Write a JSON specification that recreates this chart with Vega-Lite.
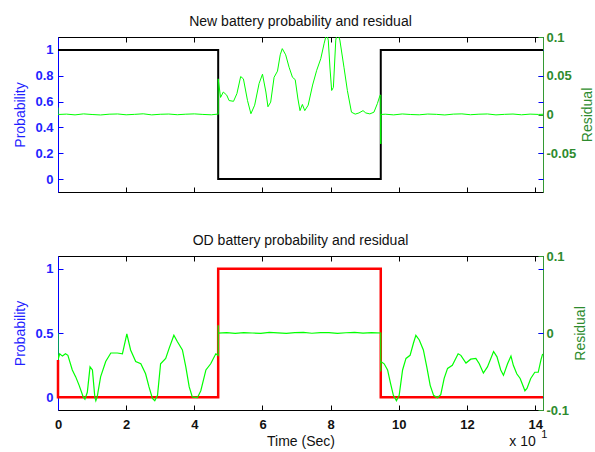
{
  "$schema": "https://vega.github.io/schema/vega-lite/v6.json",
  "background": "white",
  "padding": {"left": 13, "top": 14, "right": 0, "bottom": 0},
  "bounds": "flush",
  "spacing": 64,
  "config": {
    "font": "Liberation Sans",
    "view": {"stroke": "black", "strokeWidth": 1},
    "title": {"fontSize": 14, "fontWeight": "normal", "anchor": "middle", "offset": 2, "baseline": "alphabetic", "color": "#111111"},
    "axis": {"grid": false, "labelFlush": false, "tickSize": -5, "tickWidth": 1, "labelFontSize": 13, "labelFontWeight": "bold", "titleFontSize": 14, "titleFontWeight": "normal"}
  },
  "datasets": {
    "probTop": [{"x":0,"p":1,"i":0},{"x":4.7,"p":1,"i":1},{"x":4.7,"p":0,"i":2},{"x":9.47,"p":0,"i":3},{"x":9.47,"p":1,"i":4},{"x":14.23,"p":1,"i":5}],
    "probBot": [{"x":0,"p":0.29,"i":0},{"x":0,"p":0,"i":1},{"x":4.7,"p":0,"i":2},{"x":4.7,"p":1,"i":3},{"x":9.47,"p":1,"i":4},{"x":9.47,"p":0,"i":5},{"x":14.23,"p":0,"i":6}],
    "resTop": [
      {"x":0,"r":0.009,"i":0},{"x":0,"r":0,"i":1},{"x":0.25,"r":0.0005,"i":2},{"x":0.5,"r":-0.0005,"i":3},{"x":0.75,"r":0.0008,"i":4},{"x":1.0,"r":0,"i":5},{"x":1.25,"r":-0.0006,"i":6},{"x":1.5,"r":0.0004,"i":7},{"x":1.75,"r":0.0007,"i":8},{"x":2.0,"r":-0.0004,"i":9},{"x":2.25,"r":0.0002,"i":10},{"x":2.5,"r":0.0009,"i":11},{"x":2.75,"r":-0.0005,"i":12},{"x":3.0,"r":0.0003,"i":13},{"x":3.25,"r":0.0006,"i":14},{"x":3.5,"r":-0.0003,"i":15},{"x":3.75,"r":0.0004,"i":16},{"x":4.0,"r":0.0008,"i":17},{"x":4.25,"r":0.0001,"i":18},{"x":4.5,"r":-0.0004,"i":19},{"x":4.68,"r":0.0005,"i":20},
      {"x":4.7,"r":0,"i":21},{"x":4.7,"r":0.046,"i":22},{"x":4.77,"r":0.022,"i":23},{"x":4.85,"r":0.029,"i":24},{"x":4.95,"r":0.025,"i":25},{"x":5.02,"r":0.018,"i":26},{"x":5.15,"r":0.017,"i":27},{"x":5.25,"r":0.027,"i":28},{"x":5.36,"r":0.049,"i":29},{"x":5.44,"r":0.046,"i":30},{"x":5.56,"r":0.018,"i":31},{"x":5.66,"r":0.001,"i":32},{"x":5.77,"r":0.012,"i":33},{"x":5.9,"r":0.04,"i":34},{"x":6.0,"r":0.052,"i":35},{"x":6.1,"r":0.029,"i":36},{"x":6.16,"r":0.01,"i":37},{"x":6.24,"r":0.016,"i":38},{"x":6.34,"r":0.048,"i":39},{"x":6.44,"r":0.056,"i":40},{"x":6.52,"r":0.077,"i":41},{"x":6.58,"r":0.085,"i":42},{"x":6.68,"r":0.077,"i":43},{"x":6.78,"r":0.061,"i":44},{"x":6.88,"r":0.048,"i":45},{"x":6.96,"r":0.045,"i":46},{"x":7.04,"r":0.02,"i":47},{"x":7.1,"r":0.005,"i":48},{"x":7.17,"r":0.013,"i":49},{"x":7.24,"r":0.005,"i":50},{"x":7.34,"r":0.012,"i":51},{"x":7.47,"r":0.038,"i":52},{"x":7.59,"r":0.057,"i":53},{"x":7.71,"r":0.072,"i":54},{"x":7.81,"r":0.092,"i":55},{"x":7.88,"r":0.104,"i":56},{"x":7.93,"r":0.096,"i":57},{"x":7.98,"r":0.06,"i":58},{"x":8.03,"r":0.031,"i":59},{"x":8.08,"r":0.035,"i":60},{"x":8.15,"r":0.096,"i":61},{"x":8.2,"r":0.106,"i":62},{"x":8.27,"r":0.096,"i":63},{"x":8.39,"r":0.061,"i":64},{"x":8.49,"r":0.031,"i":65},{"x":8.61,"r":0.003,"i":66},{"x":8.72,"r":0.0005,"i":67},{"x":8.83,"r":0.002,"i":68},{"x":8.95,"r":0.005,"i":69},{"x":9.03,"r":0.002,"i":70},{"x":9.15,"r":0.0008,"i":71},{"x":9.27,"r":0.003,"i":72},{"x":9.37,"r":0.014,"i":73},{"x":9.45,"r":0.025,"i":74},{"x":9.47,"r":0.025,"i":75},{"x":9.47,"r":-0.038,"i":76},{"x":9.47,"r":0,"i":77},
      {"x":9.6,"r":0.0004,"i":78},{"x":9.85,"r":-0.0005,"i":79},{"x":10.1,"r":0.0007,"i":80},{"x":10.35,"r":0,"i":81},{"x":10.6,"r":-0.0004,"i":82},{"x":10.85,"r":0.0006,"i":83},{"x":11.1,"r":0.0002,"i":84},{"x":11.35,"r":-0.0006,"i":85},{"x":11.6,"r":0.0005,"i":86},{"x":11.85,"r":0.0008,"i":87},{"x":12.1,"r":-0.0003,"i":88},{"x":12.35,"r":0.0004,"i":89},{"x":12.6,"r":0.0007,"i":90},{"x":12.85,"r":-0.0005,"i":91},{"x":13.1,"r":0.0002,"i":92},{"x":13.35,"r":0.0006,"i":93},{"x":13.6,"r":-0.0004,"i":94},{"x":13.85,"r":0.0005,"i":95},{"x":14.1,"r":0.0001,"i":96},{"x":14.23,"r":0.0003,"i":97}
    ],
    "resBot": [
      {"x":0,"r":0,"i":0},{"x":0,"r":-0.035,"i":1},{"x":0.05,"r":-0.027,"i":2},{"x":0.13,"r":-0.03,"i":3},{"x":0.22,"r":-0.027,"i":4},{"x":0.29,"r":-0.029,"i":5},{"x":0.42,"r":-0.048,"i":6},{"x":0.52,"r":-0.057,"i":7},{"x":0.62,"r":-0.068,"i":8},{"x":0.74,"r":-0.083,"i":9},{"x":0.79,"r":-0.086,"i":10},{"x":0.86,"r":-0.077,"i":11},{"x":0.94,"r":-0.044,"i":12},{"x":1.01,"r":-0.048,"i":13},{"x":1.08,"r":-0.083,"i":14},{"x":1.11,"r":-0.088,"i":15},{"x":1.15,"r":-0.083,"i":16},{"x":1.25,"r":-0.057,"i":17},{"x":1.4,"r":-0.037,"i":18},{"x":1.55,"r":-0.026,"i":19},{"x":1.74,"r":-0.026,"i":20},{"x":1.89,"r":-0.027,"i":21},{"x":2.02,"r":-0.001,"i":22},{"x":2.13,"r":-0.022,"i":23},{"x":2.28,"r":-0.037,"i":24},{"x":2.43,"r":-0.04,"i":25},{"x":2.57,"r":-0.053,"i":26},{"x":2.67,"r":-0.07,"i":27},{"x":2.77,"r":-0.085,"i":28},{"x":2.84,"r":-0.088,"i":29},{"x":2.92,"r":-0.081,"i":30},{"x":3.01,"r":-0.04,"i":31},{"x":3.16,"r":-0.033,"i":32},{"x":3.26,"r":-0.02,"i":33},{"x":3.4,"r":-0.003,"i":34},{"x":3.5,"r":-0.011,"i":35},{"x":3.65,"r":-0.022,"i":36},{"x":3.75,"r":-0.044,"i":37},{"x":3.85,"r":-0.07,"i":38},{"x":3.94,"r":-0.083,"i":39},{"x":4.09,"r":-0.084,"i":40},{"x":4.19,"r":-0.075,"i":41},{"x":4.34,"r":-0.048,"i":42},{"x":4.48,"r":-0.04,"i":43},{"x":4.63,"r":-0.027,"i":44},{"x":4.7,"r":-0.029,"i":45},{"x":4.7,"r":0.01,"i":46},{"x":4.7,"r":0,"i":47},
      {"x":4.95,"r":0.0005,"i":48},{"x":5.2,"r":-0.0004,"i":49},{"x":5.45,"r":0.0006,"i":50},{"x":5.7,"r":0,"i":51},{"x":5.95,"r":-0.0005,"i":52},{"x":6.2,"r":0.0007,"i":53},{"x":6.45,"r":0.0002,"i":54},{"x":6.7,"r":-0.0004,"i":55},{"x":6.95,"r":0.0006,"i":56},{"x":7.2,"r":0.0008,"i":57},{"x":7.45,"r":-0.0003,"i":58},{"x":7.7,"r":0.0004,"i":59},{"x":7.95,"r":0.0006,"i":60},{"x":8.2,"r":-0.0005,"i":61},{"x":8.45,"r":0.0003,"i":62},{"x":8.7,"r":0.0007,"i":63},{"x":8.95,"r":-0.0002,"i":64},{"x":9.2,"r":0.0005,"i":65},
      {"x":9.47,"r":0,"i":66},{"x":9.47,"r":-0.05,"i":67},{"x":9.47,"r":-0.037,"i":68},{"x":9.57,"r":-0.04,"i":69},{"x":9.67,"r":-0.048,"i":70},{"x":9.76,"r":-0.066,"i":71},{"x":9.84,"r":-0.081,"i":72},{"x":9.93,"r":-0.088,"i":73},{"x":10.01,"r":-0.081,"i":74},{"x":10.11,"r":-0.048,"i":75},{"x":10.21,"r":-0.033,"i":76},{"x":10.33,"r":-0.029,"i":77},{"x":10.43,"r":-0.013,"i":78},{"x":10.5,"r":-0.003,"i":79},{"x":10.6,"r":-0.009,"i":80},{"x":10.72,"r":-0.022,"i":81},{"x":10.82,"r":-0.044,"i":82},{"x":10.92,"r":-0.068,"i":83},{"x":11.02,"r":-0.081,"i":84},{"x":11.13,"r":-0.084,"i":85},{"x":11.23,"r":-0.08,"i":86},{"x":11.33,"r":-0.059,"i":87},{"x":11.43,"r":-0.046,"i":88},{"x":11.57,"r":-0.042,"i":89},{"x":11.74,"r":-0.027,"i":90},{"x":11.82,"r":-0.029,"i":91},{"x":11.97,"r":-0.039,"i":92},{"x":12.11,"r":-0.034,"i":93},{"x":12.26,"r":-0.033,"i":94},{"x":12.36,"r":-0.04,"i":95},{"x":12.48,"r":-0.052,"i":96},{"x":12.6,"r":-0.044,"i":97},{"x":12.78,"r":-0.024,"i":98},{"x":12.88,"r":-0.031,"i":99},{"x":12.99,"r":-0.048,"i":100},{"x":13.07,"r":-0.055,"i":101},{"x":13.19,"r":-0.04,"i":102},{"x":13.29,"r":-0.03,"i":103},{"x":13.36,"r":-0.042,"i":104},{"x":13.46,"r":-0.053,"i":105},{"x":13.56,"r":-0.059,"i":106},{"x":13.7,"r":-0.075,"i":107},{"x":13.76,"r":-0.072,"i":108},{"x":13.87,"r":-0.059,"i":109},{"x":13.99,"r":-0.051,"i":110},{"x":14.09,"r":-0.051,"i":111},{"x":14.17,"r":-0.035,"i":112},{"x":14.22,"r":-0.027,"i":113}
    ],
    "expo": [{"x": 13.24, "t": "x 10"}],
    "expoSup": [{"x": 14.18, "t": "1"}]
  },
  "vconcat": [
    {
      "title": "New battery probability and residual",
      "width": 485,
      "height": 155,
      "resolve": {"scale": {"y": "independent"}, "axis": {"x": "independent", "y": "independent"}},
      "layer": [
        {
          "data": {"name": "probTop"},
          "mark": {"type": "line", "color": "black", "strokeWidth": 2},
          "encoding": {
            "x": {"field": "x", "type": "quantitative", "scale": {"domain": [0, 14.23], "nice": false, "zero": false},
                  "axis": {"orient": "bottom", "labels": false, "title": null, "values": [0,2,4,6,8,10,12,14], "domain": false, "tickColor": "black"}},
            "y": {"field": "p", "type": "quantitative", "scale": {"domain": [-0.1, 1.1], "nice": false, "zero": false},
                  "axis": {"orient": "left", "title": "Probability", "titleColor": "#1f1fff", "titlePadding": 7, "values": [0,0.2,0.4,0.6,0.8,1], "labelExpr": "'' + datum.value", "labelColor": "#1f1fff", "labelPadding": 10, "domainColor": "#0000ff", "tickColor": "#0000ff"}},
            "order": {"field": "i", "type": "quantitative"}
          }
        },
        {
          "data": {"name": "resTop"},
          "mark": {"type": "line", "color": "#00ff00", "strokeWidth": 1, "clip": true},
          "encoding": {
            "x": {"field": "x", "type": "quantitative", "axis": null},
            "y": {"field": "r", "type": "quantitative", "scale": {"domain": [-0.1, 0.1], "nice": false, "zero": false},
                  "axis": {"orient": "right", "title": "Residual", "titleAngle": 270, "titleBaseline": "top", "titleColor": "#2e8b2e", "titlePadding": 5, "values": [-0.05,0,0.05,0.1], "labelExpr": "'' + datum.value", "labelColor": "#2e8b2e", "labelPadding": 8, "domainColor": "#339933", "tickColor": "#339933"}},
            "order": {"field": "i", "type": "quantitative"}
          }
        },
        {
          "data": {"name": "probTop"},
          "mark": {"type": "line", "opacity": 0},
          "encoding": {
            "x": {"field": "x", "type": "quantitative",
                  "axis": {"orient": "top", "labels": false, "title": null, "values": [0,2,4,6,8,10,12,14], "domain": false, "tickColor": "black"}},
            "y": {"field": "p", "type": "quantitative", "scale": {"domain": [-0.1, 1.1], "nice": false, "zero": false},
                  "axis": {"orient": "right", "labels": false, "title": null, "values": [0,0.2,0.4,0.6,0.8,1], "domain": false, "tickColor": "#0000ff"}}
          }
        }
      ]
    },
    {
      "title": "OD battery probability and residual",
      "width": 485,
      "height": 154,
      "resolve": {"scale": {"y": "independent"}, "axis": {"x": "independent", "y": "independent"}},
      "layer": [
        {
          "data": {"name": "probBot"},
          "mark": {"type": "line", "color": "#ff0000", "strokeWidth": 2.5},
          "encoding": {
            "x": {"field": "x", "type": "quantitative", "scale": {"domain": [0, 14.23], "nice": false, "zero": false},
                  "axis": {"orient": "bottom", "title": "Time (Sec)", "titleColor": "#111111", "titlePadding": 3, "values": [0,2,4,6,8,10,12,14], "labelColor": "#111111", "labelPadding": 13, "domain": false, "tickColor": "black"}},
            "y": {"field": "p", "type": "quantitative", "scale": {"domain": [-0.1, 1.1], "nice": false, "zero": false},
                  "axis": {"orient": "left", "title": "Probability", "titleColor": "#1f1fff", "titlePadding": 7, "values": [0,0.5,1], "labelExpr": "'' + datum.value", "labelColor": "#1f1fff", "labelPadding": 10, "domainColor": "#0000ff", "tickColor": "#0000ff"}},
            "order": {"field": "i", "type": "quantitative"}
          }
        },
        {
          "data": {"name": "resBot"},
          "mark": {"type": "line", "color": "#00ff00", "strokeWidth": 1.2, "clip": true},
          "encoding": {
            "x": {"field": "x", "type": "quantitative", "axis": null},
            "y": {"field": "r", "type": "quantitative", "scale": {"domain": [-0.1, 0.1], "nice": false, "zero": false},
                  "axis": {"orient": "right", "title": "Residual", "titleAngle": 270, "titleBaseline": "top", "titleColor": "#2e8b2e", "titlePadding": 5, "values": [-0.1,0,0.1], "labelExpr": "'' + datum.value", "labelColor": "#2e8b2e", "labelPadding": 8, "domainColor": "#339933", "tickColor": "#339933"}},
            "order": {"field": "i", "type": "quantitative"}
          }
        },
        {
          "data": {"name": "probBot"},
          "mark": {"type": "line", "opacity": 0},
          "encoding": {
            "x": {"field": "x", "type": "quantitative",
                  "axis": {"orient": "top", "labels": false, "title": null, "values": [0,2,4,6,8,10,12,14], "domain": false, "tickColor": "black"}},
            "y": {"field": "p", "type": "quantitative", "scale": {"domain": [-0.1, 1.1], "nice": false, "zero": false},
                  "axis": {"orient": "right", "labels": false, "title": null, "values": [0,0.5,1], "domain": false, "tickColor": "#0000ff"}}
          }
        },
        {
          "data": {"name": "expo"},
          "mark": {"type": "text", "align": "left", "baseline": "alphabetic", "fontSize": 14, "color": "#111111", "dy": 113},
          "encoding": {
            "x": {"field": "x", "type": "quantitative", "axis": null},
            "text": {"field": "t"}
          }
        },
        {
          "data": {"name": "expoSup"},
          "mark": {"type": "text", "align": "left", "baseline": "alphabetic", "fontSize": 11, "color": "#111111", "dy": 105},
          "encoding": {
            "x": {"field": "x", "type": "quantitative", "axis": null},
            "text": {"field": "t"}
          }
        }
      ]
    }
  ]
}
